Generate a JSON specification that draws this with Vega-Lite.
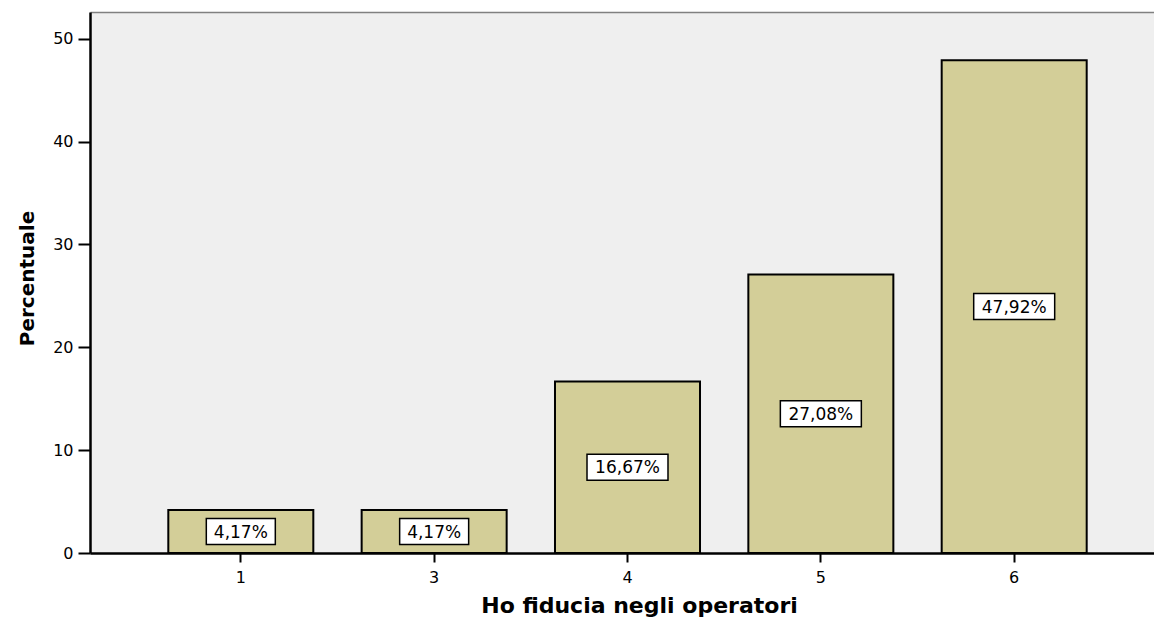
{
  "$schema": "https://vega.github.io/schema/vega-lite/v6.json",
  "autosize": "none",
  "width": 1064,
  "height": 541,
  "padding": {"left": 90, "top": 12, "right": 0, "bottom": 72},
  "background": "white",
  "config": {
    "view": {"fill": "#efefef", "stroke": null},
    "font": "DejaVu Sans"
  },
  "data": {
    "values": [
      {"cat": "1", "pct": 4.17, "label": "4,17%"},
      {"cat": "3", "pct": 4.17, "label": "4,17%"},
      {"cat": "4", "pct": 16.67, "label": "16,67%"},
      {"cat": "5", "pct": 27.08, "label": "27,08%"},
      {"cat": "6", "pct": 47.92, "label": "47,92%"}
    ]
  },
  "transform": [{"calculate": "datum.pct / 2", "as": "mid"}],
  "resolve": {"axis": {"x": "independent"}},
  "layer": [
    {
      "mark": {"type": "bar", "fill": "#d3ce98", "stroke": "black", "strokeWidth": 2},
      "encoding": {
        "x": {
          "field": "cat",
          "type": "ordinal",
          "sort": null,
          "scale": {"paddingInner": 0.25, "paddingOuter": 0.405, "range": [0, 1075]},
          "axis": {
            "title": "Ho fiducia negli operatori",
            "titleFont": "DejaVu Sans",
            "titleFontSize": 22,
            "titleFontWeight": "bold",
            "titleColor": "black",
            "titleX": 549,
            "titleY": 59,
            "titleAlign": "center",
            "titleBaseline": "alphabetic",
            "labelAngle": 0,
            "labelFont": "DejaVu Sans",
            "labelFontSize": 16,
            "labelColor": "black",
            "labelPadding": 7,
            "tickSize": 9,
            "tickWidth": 2,
            "tickColor": "black",
            "domainColor": "black",
            "domainWidth": 2.5,
            "grid": false
          }
        },
        "y": {
          "field": "pct",
          "type": "quantitative",
          "scale": {"domain": [0, 52.6], "nice": false},
          "axis": {
            "title": "Percentuale",
            "titleFont": "DejaVu Sans",
            "titleFontSize": 20,
            "titleFontWeight": "bold",
            "titleColor": "black",
            "titleAngle": 270,
            "titleX": -57,
            "titleY": 266,
            "titleAlign": "center",
            "titleBaseline": "alphabetic",
            "values": [0, 10, 20, 30, 40, 50],
            "labelFont": "DejaVu Sans",
            "labelFontSize": 16,
            "labelColor": "black",
            "labelPadding": 5,
            "tickSize": 12,
            "tickWidth": 2,
            "tickColor": "black",
            "domainColor": "black",
            "domainWidth": 2.5,
            "grid": false
          }
        }
      }
    },
    {
      "mark": {"type": "point", "filled": true, "fill": "white", "stroke": "black", "strokeWidth": 1.5, "opacity": 1, "size": 676},
      "encoding": {
        "x": {"field": "cat", "type": "ordinal", "sort": null, "axis": null},
        "y": {"field": "mid", "type": "quantitative"},
        "shape": {
          "condition": {"test": "datum.pct < 10", "value": "M-2.654,-1L2.654,-1L2.654,1L-2.654,1Z"},
          "value": "M-3.115,-1L3.115,-1L3.115,1L-3.115,1Z"
        }
      }
    },
    {
      "mark": {"type": "text", "font": "DejaVu Sans", "fontSize": 17, "color": "black", "align": "center", "baseline": "middle", "dy": 1},
      "encoding": {
        "x": {
          "field": "cat",
          "type": "ordinal",
          "sort": null,
          "axis": {
            "orient": "top",
            "title": null,
            "labels": false,
            "ticks": false,
            "grid": false,
            "domainColor": "#808080",
            "domainWidth": 1.5
          }
        },
        "y": {"field": "mid", "type": "quantitative"},
        "text": {"field": "label"}
      }
    }
  ]
}
